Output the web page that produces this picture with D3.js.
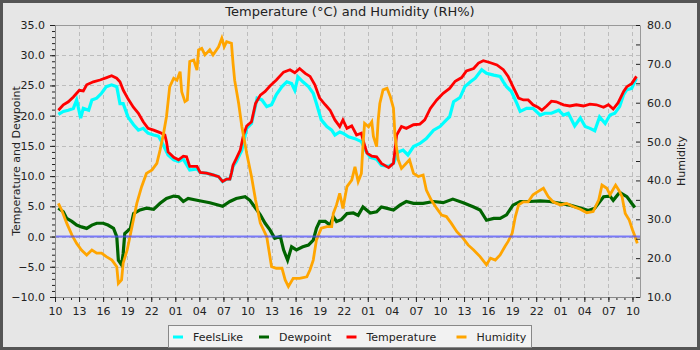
<!DOCTYPE html>
<html>
<head>
<meta charset="utf-8">
<script src="https://cdn.jsdelivr.net/npm/d3@7"></script>
<style>
  html, body { margin: 0; padding: 0; background: #e6e6e6; }
  svg { display: block; font-family: "DejaVu Sans", sans-serif; }
</style>
</head>
<body>
<svg id="chart" width="700" height="350"></svg>
<script>
// Hours elapsed since 10:00 on the first day, paired with readings.
const temperature = [[0.42,20.9],[1.04,21.8],[1.66,22.3],[2.29,23.1],[3.03,24.2],[3.53,24.1],[3.95,25.1],[4.78,25.6],[5.61,25.9],[6.44,26.3],[7.06,26.6],[7.69,26.2],[8.1,25.6],[8.52,24.2],[9.14,22.7],[9.77,21.4],[10.4,20.4],[11.0,19.0],[11.6,17.9],[12.3,17.6],[13.1,17.2],[13.7,16.8],[13.9,15.7],[14.1,14.0],[14.8,13.1],[15.4,12.7],[16.0,13.3],[16.4,13.2],[16.8,11.6],[17.7,11.6],[18.1,10.6],[18.9,10.5],[19.7,10.2],[20.4,9.9],[20.9,9.1],[21.4,9.5],[21.8,9.5],[22.0,10.5],[22.2,11.8],[22.6,12.9],[23.1,14.3],[23.5,16.8],[23.9,18.3],[24.5,19.0],[25.0,22.0],[25.6,23.4],[26.2,24.0],[26.8,24.9],[27.6,25.9],[28.5,27.2],[29.3,27.6],[29.9,27.1],[30.5,27.8],[31.2,27.0],[31.8,26.5],[32.4,25.1],[33.0,22.9],[33.7,21.8],[34.3,20.9],[34.9,19.3],[35.5,18.2],[35.9,19.3],[36.4,17.9],[37.0,18.3],[37.6,16.8],[38.2,17.1],[38.4,16.0],[38.9,13.8],[39.5,13.3],[40.1,13.2],[40.7,12.1],[41.6,11.4],[42.2,12.1],[42.6,16.8],[43.2,18.2],[43.8,17.9],[44.7,18.5],[45.5,18.6],[46.1,19.3],[46.8,21.2],[47.6,22.6],[48.4,23.7],[49.2,24.5],[49.9,25.7],[50.7,26.3],[51.3,27.4],[52.2,27.8],[52.8,28.7],[53.4,29.1],[54.2,28.8],[55.1,28.4],[55.9,27.6],[56.5,26.5],[57.1,24.8],[57.8,22.9],[58.4,22.6],[59.0,22.6],[59.6,21.8],[60.2,21.4],[60.7,20.9],[61.3,21.6],[61.9,22.4],[62.5,22.3],[63.4,21.8],[64.2,21.6],[65.0,21.8],[65.9,21.6],[66.7,21.9],[67.5,21.8],[68.4,21.4],[69.0,21.8],[69.6,21.1],[70.2,22.1],[70.9,24.0],[71.3,24.8],[71.9,25.3],[72.5,26.5]];

const feelsLike = [[0.42,20.2],[1.04,20.7],[1.66,20.9],[2.29,21.2],[2.7,22.6],[3.2,19.6],[3.53,21.2],[4.2,20.9],[4.6,22.6],[5.2,22.9],[5.8,23.7],[6.4,24.8],[7.06,25.1],[7.7,24.8],[8.1,22.0],[8.5,22.0],[9.1,19.8],[9.8,18.5],[10.4,17.6],[11.0,17.9],[11.6,17.1],[12.3,16.8],[12.9,16.6],[13.3,15.7],[13.7,14.6],[14.1,13.5],[14.8,12.7],[15.4,12.4],[16.0,12.8],[16.8,11.0],[17.7,11.2],[18.1,10.6],[18.9,10.5],[19.7,10.2],[20.4,9.9],[20.9,9.1],[21.4,9.5],[21.8,9.5],[22.0,10.5],[22.2,11.6],[22.6,12.4],[23.3,14.3],[23.9,17.9],[24.5,18.7],[25.2,22.9],[25.8,22.6],[26.4,21.5],[27.0,21.8],[27.6,23.5],[28.3,24.8],[28.9,25.6],[29.5,25.3],[29.9,24.2],[30.3,26.4],[30.9,25.6],[31.6,24.8],[32.2,23.7],[32.6,22.0],[33.2,19.3],[33.9,18.2],[34.5,17.6],[34.9,16.8],[35.5,17.3],[35.9,17.1],[36.6,16.5],[37.4,16.2],[38.2,15.7],[38.7,14.3],[39.3,13.1],[40.1,12.8],[40.7,11.8],[41.6,11.6],[42.2,12.1],[42.8,14.0],[43.4,14.3],[44.0,13.5],[44.7,14.9],[45.5,15.4],[46.3,16.2],[47.2,17.6],[48.0,18.2],[48.8,19.3],[49.2,19.8],[49.7,22.3],[50.5,23.0],[51.1,24.8],[51.8,25.6],[52.4,26.2],[53.2,27.6],[53.8,27.0],[54.7,26.7],[55.5,26.5],[55.9,25.6],[56.3,24.8],[56.9,24.0],[57.6,22.0],[58.0,20.7],[58.8,21.2],[59.6,21.2],[60.5,20.1],[61.1,20.4],[61.9,20.4],[62.8,20.9],[63.4,20.1],[64.0,20.4],[64.8,18.3],[65.5,19.6],[66.1,18.2],[66.7,17.9],[67.3,17.5],[67.9,19.8],[68.6,18.7],[69.2,20.1],[69.8,20.4],[70.4,21.5],[70.9,23.5],[71.3,24.3],[71.9,24.5],[72.5,26.2]];

const dewpoint = [[0.42,4.7],[1.04,4.1],[1.46,3.0],[2.1,2.5],[2.7,1.9],[3.3,1.6],[3.95,1.35],[4.6,1.9],[5.2,2.2],[6.0,2.2],[6.6,1.9],[7.3,1.35],[7.7,0.0],[7.9,-3.9],[8.3,-4.7],[8.5,-2.8],[8.7,0.5],[9.4,1.35],[9.8,3.8],[10.6,4.4],[11.4,4.7],[12.3,4.5],[13.1,5.5],[13.9,6.3],[14.8,6.7],[15.4,6.6],[16.0,5.8],[16.6,6.3],[17.7,6.0],[18.5,5.8],[19.3,5.6],[20.1,5.3],[20.9,5.0],[21.8,5.8],[22.6,6.3],[23.7,6.6],[24.3,6.0],[24.9,4.9],[25.6,3.6],[26.2,2.2],[26.8,1.1],[27.4,-0.3],[28.1,0.0],[28.5,-2.2],[29.0,-3.9],[29.5,-1.7],[30.1,-2.2],[30.9,-1.7],[31.6,-1.4],[32.2,-0.6],[32.6,1.35],[33.0,2.5],[33.7,2.5],[34.3,1.9],[34.7,3.3],[35.1,2.5],[35.7,2.8],[36.4,3.8],[37.2,3.9],[37.8,3.5],[38.4,4.9],[39.3,3.9],[40.1,4.1],[40.7,4.9],[41.3,4.7],[42.2,4.4],[43.0,5.2],[43.8,5.8],[44.7,5.5],[45.9,5.5],[47.2,5.8],[48.4,5.6],[49.6,6.2],[50.9,5.6],[52.2,4.9],[53.0,4.4],[53.8,2.7],[54.7,3.0],[55.5,3.0],[56.3,3.6],[57.1,5.2],[58.0,5.8],[59.2,5.8],[60.5,5.9],[61.7,5.8],[63.0,5.5],[64.2,5.2],[65.5,4.7],[66.5,4.3],[67.3,4.7],[68.4,6.6],[69.2,6.7],[69.6,6.0],[70.4,7.3],[71.3,6.6],[71.9,5.5],[72.3,4.8]];

const humidity = [[0.42,34.1],[0.83,32.4],[1.46,29.0],[2.1,26.0],[2.7,23.8],[3.3,22.1],[3.95,20.8],[4.6,22.1],[5.2,21.3],[5.8,21.3],[6.4,20.4],[7.1,19.5],[7.7,17.8],[7.9,13.5],[8.3,14.4],[8.5,18.7],[9.0,22.1],[9.6,28.1],[10.2,34.1],[10.8,38.4],[11.4,41.8],[12.1,42.7],[12.7,44.4],[13.1,47.8],[13.5,51.7],[13.9,56.4],[14.3,64.1],[14.8,66.3],[15.2,65.8],[15.6,68.0],[15.8,62.8],[16.2,60.3],[16.5,60.7],[16.8,70.6],[17.3,71.0],[17.7,68.4],[17.9,73.6],[18.3,74.0],[18.7,72.3],[19.3,73.6],[19.7,72.3],[20.4,74.4],[20.8,76.6],[21.1,74.4],[21.4,75.7],[22.0,75.3],[22.2,70.1],[22.4,65.8],[22.9,59.8],[23.3,53.8],[23.9,47.0],[24.5,41.0],[25.0,35.0],[25.6,29.0],[26.4,25.5],[27.0,17.8],[27.6,17.4],[28.3,17.4],[28.7,14.4],[29.1,12.7],[29.7,14.8],[30.5,14.8],[31.4,15.2],[31.8,17.0],[32.2,19.5],[32.6,24.7],[33.2,27.7],[33.9,28.1],[34.5,28.1],[34.7,31.5],[35.1,33.7],[35.5,36.7],[35.9,32.8],[36.4,38.4],[37.0,40.1],[37.4,43.5],[37.8,39.7],[38.2,41.8],[38.4,49.1],[38.6,54.7],[39.1,53.8],[39.5,55.1],[39.7,51.3],[40.1,48.7],[40.3,55.6],[40.5,59.8],[40.9,63.3],[41.4,63.7],[41.8,61.6],[42.2,58.6],[42.4,51.3],[42.8,45.3],[43.2,43.1],[43.8,44.4],[44.2,45.3],[44.7,41.8],[45.3,41.0],[45.9,41.4],[46.3,37.5],[46.9,35.0],[47.6,32.8],[48.2,31.1],[48.8,30.7],[49.4,29.0],[50.1,26.8],[50.9,25.1],[51.5,23.4],[52.2,22.1],[53.0,20.4],[53.8,18.3],[54.3,20.0],[54.9,19.5],[55.5,20.8],[56.1,23.0],[56.5,24.3],[57.0,26.4],[57.4,30.7],[57.8,33.7],[58.4,34.5],[59.0,34.5],[59.6,36.3],[60.2,37.1],[60.9,38.0],[61.5,35.8],[62.1,34.5],[63.0,33.7],[63.8,34.1],[64.6,33.3],[65.5,32.6],[66.3,31.7],[67.1,32.0],[67.8,35.0],[68.2,38.8],[68.8,38.0],[69.2,36.3],[69.9,38.8],[70.3,37.5],[70.7,35.8],[71.1,31.5],[71.6,29.8],[72.0,27.3],[72.4,25.1],[72.6,23.8]];

// Hour-of-day labels every three hours, starting at 10:00.
const xTickHours = d3.range(0, 73, 3);
const xTickLabels = ["10","13","16","19","22","01","04","07","10","13","16","19","22","01","04","07","10","13","16","19","22","01","04","07","10"];
const leftTicks = [-10, -5, 0, 5, 10, 15, 20, 25, 30, 35];
const rightTicks = [10, 20, 30, 40, 50, 60, 70, 80];

const seriesNames = ["FeelsLike", "Dewpoint", "Temperature", "Humidity"];
const seriesColors = ["#00ffff", "#006400", "#ff0000", "#ffa500"];

const svg = d3.select("#chart");
const W = 700, H = 350;
const plot = { left: 55, right: 640, top: 25, bottom: 297 };

// Background and outer frame
svg.append("rect").attr("x", 1.5).attr("y", 1.5).attr("width", W - 3).attr("height", H - 3)
  .attr("fill", "#e6e6e6").attr("stroke", "#555").attr("stroke-width", 3);

const x = d3.scaleLinear().domain([0, 72.94]).range([plot.left, plot.right]);
const yL = d3.scaleLinear().domain([-10, 35]).range([plot.bottom, plot.top]);
const yR = d3.scaleLinear().domain([10, 80]).range([plot.bottom, plot.top]);

// Gridlines
const grid = svg.append("g").attr("stroke", "#bdbdbd").attr("stroke-width", 1).attr("stroke-dasharray", "4,3");
grid.selectAll("line.h").data(leftTicks.filter(v => v > -10 && v < 35)).join("line")
  .attr("x1", plot.left).attr("x2", plot.right)
  .attr("y1", d => Math.round(yL(d)) + 0.5).attr("y2", d => Math.round(yL(d)) + 0.5);
grid.selectAll("line.v").data(xTickHours.filter(h => h > 0)).join("line")
  .attr("y1", plot.top).attr("y2", plot.bottom)
  .attr("x1", d => Math.round(x(d)) + 0.5).attr("x2", d => Math.round(x(d)) + 0.5);

// Plot frame top edge
svg.append("line").attr("x1", plot.left).attr("x2", plot.right).attr("y1", plot.top + 0.5).attr("y2", plot.top + 0.5)
  .attr("stroke", "#999");

// Clip for series
svg.append("clipPath").attr("id", "clip").append("rect")
  .attr("x", plot.left).attr("y", plot.top).attr("width", plot.right - plot.left).attr("height", plot.bottom - plot.top);
const lines = svg.append("g").attr("clip-path", "url(#clip)").attr("fill", "none")
  .attr("stroke-linejoin", "miter").attr("stroke-linecap", "butt");

const lineL = d3.line().x(d => x(d[0])).y(d => yL(d[1]));
const lineR = d3.line().x(d => x(d[0])).y(d => yR(d[1]));

lines.append("path").datum(feelsLike).attr("d", lineL).attr("stroke", seriesColors[0]).attr("stroke-width", 3.2);
lines.append("path").datum(dewpoint).attr("d", lineL).attr("stroke", seriesColors[1]).attr("stroke-width", 3.2);
lines.append("path").datum(temperature).attr("d", lineL).attr("stroke", seriesColors[2]).attr("stroke-width", 2.8);
lines.append("path").datum(humidity).attr("d", lineR).attr("stroke", seriesColors[3]).attr("stroke-width", 2.8);

// Freezing reference line
svg.append("line").attr("x1", plot.left).attr("x2", plot.right)
  .attr("y1", yL(0)).attr("y2", yL(0))
  .attr("stroke", "#4a4aff").attr("stroke-opacity", 0.7).attr("stroke-width", 2);

// Axes
const fontSize = "11px";
function styleAxis(g, domainColor) {
  g.selectAll("text").attr("font-size", fontSize).attr("font-family", "DejaVu Sans").attr("fill", "#222");
  g.selectAll(".tick line").attr("stroke", "#222");
  g.select(".domain").attr("stroke", domainColor);
}

// Left axis: minor then major
svg.append("g").attr("transform", `translate(${plot.left},0)`)
  .call(d3.axisLeft(yL).tickValues(d3.range(-10, 36, 1)).tickSize(3).tickFormat(""))
  .call(g => { g.select(".domain").remove(); g.selectAll("line").attr("stroke", "#222"); });
svg.append("g").attr("transform", `translate(${plot.left},0)`)
  .call(d3.axisLeft(yL).tickValues(leftTicks).tickSize(5).tickPadding(5).tickFormat(d3.format(".1f")).tickSizeOuter(0))
  .call(g => styleAxis(g, "#888"));

// Bottom axis
svg.append("g").attr("transform", `translate(0,${plot.bottom})`)
  .call(d3.axisBottom(x).tickValues(d3.range(0, 73, 1)).tickSize(3).tickFormat(""))
  .call(g => { g.select(".domain").remove(); g.selectAll("line").attr("stroke", "#222"); });
svg.append("g").attr("transform", `translate(0,${plot.bottom})`)
  .call(d3.axisBottom(x).tickValues(xTickHours).tickSize(5).tickPadding(5).tickSizeOuter(0)
    .tickFormat((d, i) => xTickLabels[i]))
  .call(g => styleAxis(g, "#888"));

// Right axis, ticks drawn inward
svg.append("g").attr("transform", `translate(${plot.right},0)`)
  .call(d3.axisRight(yR).tickValues(d3.range(10, 81, 5)).tickSize(-4).tickFormat(""))
  .call(g => { g.select(".domain").remove(); g.selectAll("line").attr("stroke", "#222"); });
svg.append("g").attr("transform", `translate(${plot.right},0)`)
  .call(d3.axisRight(yR).tickValues(rightTicks).tickSize(0).tickPadding(7).tickFormat(d3.format(".1f")).tickSizeOuter(0))
  .call(g => styleAxis(g, "#999"));

// Title and axis titles
svg.append("text").attr("x", 350).attr("y", 16).attr("text-anchor", "middle")
  .attr("font-size", "13px").attr("fill", "#222").text("Temperature (°C) and Humidity (RH%)");
svg.append("text").attr("transform", `translate(20,${(plot.top + plot.bottom) / 2}) rotate(-90)`)
  .attr("text-anchor", "middle").attr("font-size", fontSize).attr("fill", "#222").text("Temperature and Dewpoint");
svg.append("text").attr("transform", `translate(684.5,${(plot.top + plot.bottom) / 2}) rotate(-90)`)
  .attr("text-anchor", "middle").attr("font-size", fontSize).attr("fill", "#222").text("Humidity");

// Legend
const legend = svg.append("g");
legend.append("rect").attr("x", 168.5).attr("y", 325.5).attr("width", 363).attr("height", 22)
  .attr("fill", "#f2f2f2").attr("stroke", "#888");
const legendLineX = [173, 259, 346.5, 456.5];
seriesNames.forEach((name, i) => {
  legend.append("line").attr("x1", legendLineX[i]).attr("x2", legendLineX[i] + 10)
    .attr("y1", 337).attr("y2", 337).attr("stroke", seriesColors[i]).attr("stroke-width", 3);
  legend.append("text").attr("x", legendLineX[i] + 20).attr("y", 341)
    .attr("font-size", fontSize).attr("fill", "#222").text(name);
});
</script>
</body>
</html>
